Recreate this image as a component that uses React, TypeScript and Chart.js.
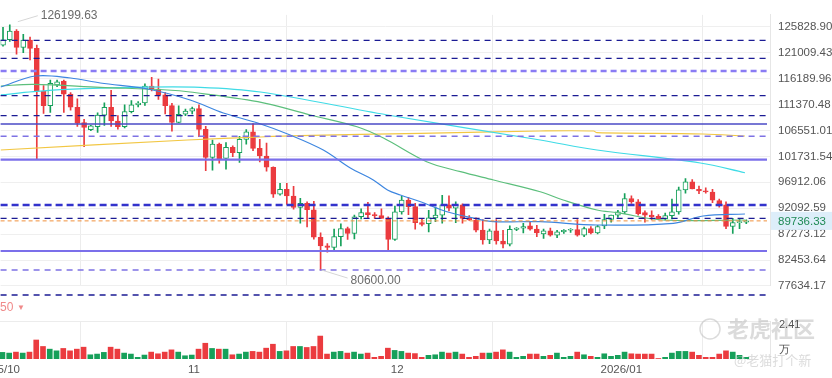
import React, { useEffect, useRef } from "react";
import { Chart, registerables } from "chart.js";

Chart.register(...registerables);

// ---------- data ----------
// day index: days since 2025-10-01 ; first candle is 2025-10-05
const firstDay = 4;
const opens = [
  122400, 123400, 125000, 122000, 123350, 121800, 113800, 111150, 115000, 115700, 113300, 110850, 108000, 106700, 107250, 109400, 110850, 108300, 107250, 110050, 111300, 111650, 114800, 114250, 113150, 111150, 108050,
  109550, 110150, 110600, 106760, 101550, 104000, 101370, 103420, 102400, 104900, 106300, 103200, 101800, 99700, 94700, 95600, 94370, 92230, 93000, 91800, 86700, 85100, 84800, 86800, 88300, 87400, 90500, 91300, 90900, 90700,
  90200, 86300, 91400, 93600, 92400, 89400, 89200, 90300, 90800, 92700, 92100, 92700, 90200, 89900, 88040, 86200, 87900, 86000, 85400, 88150, 88400, 88800, 88200, 87300, 87900, 87100, 87700, 88000, 88100, 87100, 88300,
  87500, 88800, 90000, 90800, 91400, 93900, 93300, 91300, 90800, 90600, 90100, 90700, 91400, 95500, 97000, 95600, 95300, 95100, 93500, 92700, 88700, 89400, 89500,
];
const highs = [
  125700, 126199.63, 125300, 124400, 123900, 122400, 114900, 115900, 115900, 115900, 113600, 112400, 108600, 107500, 109800, 111700, 114000, 109300, 111300, 112100, 111900, 115200, 116400, 116100, 113600, 111600, 111100,
  110500, 110900, 111300, 107300, 104750, 104200, 104300, 103700, 105450, 106700, 107800, 104900, 104200, 99800, 96700, 96700, 96150, 93950, 93300, 93350, 87500, 85500, 88200, 89200, 88600, 90800, 92000, 93200, 91300, 92000,
  90500, 92500, 94300, 94100, 93000, 90100, 91700, 92300, 94500, 94400, 93300, 92900, 90700, 90300, 90000, 88200, 90000, 88000, 88800, 88500, 89300, 89600, 88900, 88200, 88400, 88000, 88100, 88300, 90000, 88600, 88700,
  88900, 90950, 90800, 91700, 94800, 94400, 93700, 91600, 91600, 90900, 91200, 93800, 96000, 97600, 97400, 96200, 95900, 95600, 93800, 93300, 90200, 90200, 89950,
];
const lows = [
  122200, 123100, 120700, 121000, 119640, 101300, 109700, 109900, 114700, 109900, 110300, 107300, 103550, 106500, 106200, 107500, 107300, 106800, 107000, 109800, 110900, 111200, 113900, 112300, 109600, 106400, 108000,
  109300, 109600, 105400, 99050, 99150, 100450, 99360, 101650, 100600, 104000, 102800, 100700, 99000, 94100, 94500, 92800, 91900, 89300, 88600, 86350, 80600, 83900, 84350, 85100, 86300, 86400, 90100, 90200, 90200, 90200,
  84000, 86100, 91000, 90900, 88200, 88800, 87700, 89600, 89300, 91600, 89400, 89300, 89800, 87700, 85400, 85500, 85400, 84700, 85100, 87900, 87500, 88000, 86800, 86500, 86900, 86600, 87400, 87600, 86900, 86800, 87300,
  87300, 88300, 89500, 90400, 91100, 93000, 90800, 89500, 89900, 89900, 89900, 90100, 91000, 94900, 95700, 94800, 94900, 93100, 92300, 88300, 87400, 88300, 89200,
];
const closes = [
  123400, 125000, 122000, 123350, 121800, 113800, 111150, 115300, 115600, 113300, 110850, 107900, 107100, 107400, 109400, 110850, 108300, 107250, 110050, 111300, 111650, 114800, 114250, 113150, 111150, 108050, 109550,
  110150, 110600, 106760, 101550, 104000, 101200, 103420, 102400, 104900, 106300, 103200, 101800, 99700, 94700, 95600, 94370, 92230, 93000, 91800, 86700, 85100, 84800, 86800, 88300, 87400, 90500, 91300, 90900, 90700, 90200,
  86300, 91400, 93600, 92400, 89400, 89100, 90300, 90800, 92700, 92100, 92700, 90200, 89900, 88000, 86200, 87900, 86000, 85400, 88150, 88400, 88700, 88200, 87500, 87900, 87100, 87700, 88000, 88100, 87100, 88300, 87500,
  88700, 90000, 90800, 91400, 93900, 93300, 91100, 90800, 90500, 90100, 90700, 91400, 95500, 97000, 95700, 95300, 95100, 93600, 92700, 88700, 89400, 89600, 89736.33,
];
const volumes = [
  470, 420, 490, 420, 490, 1350, 890, 700, 580, 750, 580, 700, 840, 300, 350, 470, 840, 700, 420, 350, 120, 280, 490, 370, 490, 650, 490,
  230, 280, 700, 1120, 750, 700, 700, 300, 350, 490, 540, 490, 770, 1050, 540, 580, 890, 890, 820, 890, 1630, 350, 490, 540, 420, 490, 350, 420, 120, 190,
  770, 610, 540, 420, 385, 120, 260, 300, 490, 420, 490, 350, 120, 190, 420, 420, 490, 650, 490, 120, 190, 350, 350, 190, 260, 420, 120, 190, 490, 300, 190,
  120, 370, 190, 260, 490, 370, 350, 350, 350, 35, 120, 420, 540, 540, 490, 260, 120, 120, 350, 580, 490, 260, 120,
];
const volumeMax = 2700;

const maBlueDays = [3.64, 8.8, 14, 18.4, 25.8, 31.7, 36.6, 41.7, 46.5, 51.4, 55.4, 58.8, 60.9, 62.8, 65.8, 69.7, 73.7, 76.6, 83.5, 91.9, 103.2, 107.6, 113.8];
const maBlueVals = [114620, 116670, 116290, 115370, 114160, 112200, 109790, 107930, 105700, 102910, 99570, 97340, 95480, 94550, 93300, 91440, 90220, 89590, 89590, 88970, 89290, 90650, 91020];
const maGreenDays = [3.64, 8.5, 18.4, 28.3, 31.7, 41.7, 49.5, 56.4, 60.3, 66.7, 71.7, 76.6, 83.5, 86.9, 91.9, 94.9, 101.7, 113.8];
const maGreenVals = [114810, 115120, 114570, 114060, 113690, 111890, 109420, 107240, 105140, 100740, 98880, 97340, 95160, 93620, 91760, 91260, 89900, 89900];
const maCyanDays = [3.64, 8.5, 13.5, 23.3, 33.2, 42.1, 60.9, 83.5, 91.9, 107.2, 113.8];
const maCyanVals = [113140, 113750, 114190, 114570, 114570, 113690, 109420, 104770, 102910, 100500, 98690];
const maYellowDays = [3.64, 31.3, 42.1, 48, 65.8, 83.5, 91.4, 91.9, 107.6, 113.8];
const maYellowVals = [102910, 104770, 105330, 105570, 106020, 106440, 106440, 106130, 105890, 105510];

const yTicks = [125828.9, 121009.43, 116189.96, 111370.48, 106551.01, 101731.54, 96912.06, 92092.59, 87273.12, 82453.64, 77634.17];
const monthDays = [0, 31, 61, 92];
const monthLabels = ["2025/10", "11", "12", "2026/01"];

const levelValues = [123300, 119960, 117600, 113000, 109290, 107745, 105460, 101110, 92690, 90220, 89736.33, 84140, 80610, 75960];
const levelKinds = ["navy", "navy", "purpleThick", "navy", "navy", "solidBlue", "purple", "solidPurple", "blueThick", "navy", "orange", "solidPurple", "purple", "navy"];

const lastPrice = 89736.33;
const highMark = 126199.63;
const lowMark = 80600.0;

// ---------- layout calibration (where two reference ticks sit on the page) ----------
const Y_REF_TOP = { v: 125828.9, px: 26.7 };
const Y_REF_BOT = { v: 77634.17, px: 286 };
const X_REF_A = { d: 31, px: 185 };
const X_REF_B = { d: 92, px: 597.5 };

// ---------- styles ----------
const UP = "#16a05a";
const DOWN = "#eb3b3f";
const LEVEL_STYLE: Record<string, { c: string; w: number; d: number[] }> = {
  navy: { c: "#1b1b94", w: 1.3, d: [6, 5] },
  purpleThick: { c: "#8a7cf4", w: 2.4, d: [6, 4] },
  purple: { c: "#7e72e4", w: 1.6, d: [6, 5] },
  blueThick: { c: "#3333cc", w: 2.6, d: [7, 4] },
  solidBlue: { c: "#4a4ac6", w: 1.6, d: [] },
  solidPurple: { c: "#7b6fea", w: 2.2, d: [] },
  orange: { c: "#f0913c", w: 1, d: [4, 3] },
};

const FONT = "'Liberation Sans', Arial, sans-serif";
const AXIS_W = 62;

const days = opens.map((_, i) => firstDay + i);
const isUp = opens.map((o, i) => closes[i] >= o);

function pts(ds: number[], vs: number[]) {
  return ds.map((d, i) => ({ x: d, y: vs[i] }));
}

function calibrateX(chart: any) {
  const { left, right } = chart.chartArea;
  const k = (X_REF_B.px - X_REF_A.px) / (X_REF_B.d - X_REF_A.d);
  chart.options.scales.x.min = X_REF_A.d - (X_REF_A.px - left) / k;
  chart.options.scales.x.max = X_REF_B.d + (right - X_REF_B.px) / k;
}

function calibrateY(chart: any, canvasTop: number) {
  const { top, bottom } = chart.chartArea;
  const k = (Y_REF_BOT.px - Y_REF_TOP.px) / (Y_REF_TOP.v - Y_REF_BOT.v);
  chart.options.scales.y.max = Y_REF_TOP.v + (Y_REF_TOP.px - canvasTop - top) / k;
  chart.options.scales.y.min = Y_REF_BOT.v - (canvasTop + bottom - Y_REF_BOT.px) / k;
}

const levelsPlugin = {
  id: "levels",
  afterDatasetsDraw(chart: any) {
    const { ctx, chartArea, scales } = chart;
    ctx.save();
    levelValues.forEach((v, i) => {
      const st = LEVEL_STYLE[levelKinds[i]];
      const y = scales.y.getPixelForValue(v);
      ctx.beginPath();
      ctx.strokeStyle = st.c;
      ctx.lineWidth = st.w;
      ctx.setLineDash(st.d);
      ctx.moveTo(chartArea.left, y);
      ctx.lineTo(chartArea.right - 3, y);
      ctx.stroke();
    });
    ctx.restore();
  },
  afterDraw(chart: any) {
    const { ctx, scales, chartArea } = chart;
    ctx.save();
    ctx.font = `12px ${FONT}`;
    ctx.textBaseline = "middle";
    const hi = highs.indexOf(highMark);
    const hx = scales.x.getPixelForValue(days[hi]);
    const hy = scales.y.getPixelForValue(highMark);
    ctx.strokeStyle = "#d6d6d6";
    ctx.lineWidth = 1;
    ctx.beginPath();
    ctx.moveTo(hx + 8, hy - 3);
    ctx.lineTo(hx + 28, hy - 9);
    ctx.stroke();
    ctx.fillStyle = "#6b6b6b";
    ctx.textAlign = "left";
    ctx.fillText(highMark.toFixed(2), hx + 31, hy - 9);
    const lo = lows.indexOf(lowMark);
    const lx = scales.x.getPixelForValue(days[lo]);
    const ly = scales.y.getPixelForValue(lowMark);
    ctx.beginPath();
    ctx.moveTo(lx + 1, ly);
    ctx.lineTo(lx + 27, ly + 8);
    ctx.stroke();
    ctx.fillText(lowMark.toFixed(2), lx + 30, ly + 11);
    const py = scales.y.getPixelForValue(lastPrice);
    ctx.fillStyle = "#ddeefa";
    ctx.fillRect(chartArea.right + 1, py - 9, AXIS_W, 18);
    ctx.fillStyle = "#1f8a55";
    ctx.font = `11.5px ${FONT}`;
    ctx.fillText(lastPrice.toFixed(2), chartArea.right + 8, py + 0.5);
    ctx.restore();
  },
};

const volumePlugin = {
  id: "volumeText",
  afterDraw(chart: any) {
    const { ctx, scales, chartArea } = chart;
    ctx.save();
    ctx.textBaseline = "middle";
    ctx.textAlign = "left";
    ctx.font = `11.5px ${FONT}`;
    ctx.fillStyle = "#555";
    monthDays.forEach((d, i) => {
      ctx.fillText(monthLabels[i], scales.x.getPixelForValue(d) + 3, 70);
    });
    ctx.fillStyle = "#f08a8a";
    ctx.font = `12px ${FONT}`;
    ctx.fillText("50", 0, 8);
    ctx.font = `8px ${FONT}`;
    ctx.fillText("\u25BC", 17, 8);
    ctx.fillStyle = "rgba(190,190,190,0.55)";
    ctx.strokeStyle = "rgba(190,190,190,0.55)";
    ctx.lineWidth = 1.5;
    ctx.beginPath();
    ctx.arc(710, 29, 10, 0, Math.PI * 2);
    ctx.stroke();
    ctx.font = `bold 22px 'Noto Sans CJK SC', sans-serif`;
    ctx.fillText("老虎社区", 727, 29);
    ctx.font = `13px 'Noto Sans CJK SC', sans-serif`;
    ctx.fillText("@老猫打个新", 734, 60);
    ctx.fillStyle = "#555";
    ctx.font = `11px ${FONT}`;
    ctx.fillText("2.41", chartArea.right + 9, 25);
    ctx.fillText("万", chartArea.right + 9, 50);
    ctx.restore();
  },
};

export default function App() {
  const priceRef = useRef<HTMLCanvasElement>(null);
  const volRef = useRef<HTMLCanvasElement>(null);

  useEffect(() => {
    Chart.defaults.font.family = FONT;
    const xScale = () => ({
      type: "linear" as const,
      min: 3.6,
      max: 117.5,
      offset: false,
      afterBuildTicks: (s: any) => {
        s.ticks = monthDays.map((v) => ({ value: v }));
      },
      afterFit: (s: any) => {
        s.height = 0;
      },
      ticks: { display: false },
      grid: { display: true, color: "#ececec", drawTicks: false },
      border: { display: false },
    });

    const lineDs = (ds: number[], vs: number[], color: string) => ({
      type: "line" as const,
      data: pts(ds, vs),
      borderColor: color,
      borderWidth: 1.2,
      pointRadius: 0,
      tension: 0.35,
      order: 0,
    });

    const price = new Chart(priceRef.current!, {
      type: "bar",
      data: {
        datasets: [
          lineDs(maBlueDays, maBlueVals, "#3d86e0") as any,
          lineDs(maGreenDays, maGreenVals, "#5cbf7c") as any,
          lineDs(maCyanDays, maCyanVals, "#3fdbe6") as any,
          lineDs(maYellowDays, maYellowVals, "#f2c744") as any,
          {
            type: "bar",
            data: days.map((d, i) => ({ x: d, y: [opens[i], closes[i]] })),
            backgroundColor: isUp.map((u) => (u ? "#ffffff" : DOWN)),
            borderColor: isUp.map((u) => (u ? UP : DOWN)),
            borderWidth: 1,
            borderSkipped: false,
            barThickness: 5,
            minBarLength: 1,
            grouped: false,
            order: 1,
          } as any,
          {
            type: "bar",
            data: days.map((d, i) => ({ x: d, y: [lows[i], highs[i]] })),
            backgroundColor: isUp.map((u) => (u ? UP : DOWN)),
            borderWidth: 0,
            barThickness: 1,
            grouped: false,
            order: 2,
          } as any,
        ],
      },
      options: {
        animation: false,
        responsive: false,
        devicePixelRatio: 1,
        layout: { padding: 0 },
        plugins: { legend: { display: false }, tooltip: { enabled: false } },
        scales: {
          x: xScale() as any,
          y: {
            position: "right",
            min: 75000,
            max: 130800,
            afterBuildTicks: (s: any) => {
              s.ticks = yTicks.map((v) => ({ value: v }));
            },
            afterFit: (s: any) => {
              s.width = AXIS_W;
            },
            ticks: {
              padding: 8,
              color: "#555",
              font: { size: 11.5, family: FONT },
              callback: (v: any) => Number(v).toFixed(2),
            },
            grid: { color: "#efefef", drawTicks: false },
            border: { display: true, color: "#e6e6e6" },
          },
        },
      },
      plugins: [levelsPlugin],
    });
    calibrateX(price);
    calibrateY(price, 0);
    price.update();

    const vol = new Chart(volRef.current!, {
      type: "bar",
      data: {
        datasets: [
          {
            data: days.map((d, i) => ({ x: d, y: volumes[i] })),
            backgroundColor: isUp.map((u) => (u ? UP : DOWN)),
            barThickness: 5,
            borderWidth: 0,
          } as any,
        ],
      },
      options: {
        animation: false,
        responsive: false,
        devicePixelRatio: 1,
        layout: { padding: { top: 21, bottom: 19, left: 0, right: 0 } },
        plugins: { legend: { display: false }, tooltip: { enabled: false } },
        scales: {
          x: xScale() as any,
          y: {
            position: "right",
            min: 0,
            max: volumeMax,
            afterBuildTicks: (s: any) => {
              s.ticks = [{ value: volumeMax }];
            },
            afterFit: (s: any) => {
              s.width = AXIS_W;
            },
            ticks: { display: false },
            grid: { color: "#ececec", drawTicks: false },
            border: { display: true, color: "#e6e6e6" },
          },
        },
      },
      plugins: [volumePlugin],
    });
    calibrateX(vol);
    vol.update();

    return () => {
      price.destroy();
      vol.destroy();
    };
  }, []);

  return (
    <div style={{ position: "fixed", left: 0, top: 0, width: 832, height: 378, background: "#fff" }}>
      <canvas ref={priceRef} width={832} height={300} style={{ position: "absolute", left: 0, top: 0, width: 832, height: 300 }} />
      <canvas ref={volRef} width={832} height={78} style={{ position: "absolute", left: 0, top: 300, width: 832, height: 78 }} />
    </div>
  );
}
